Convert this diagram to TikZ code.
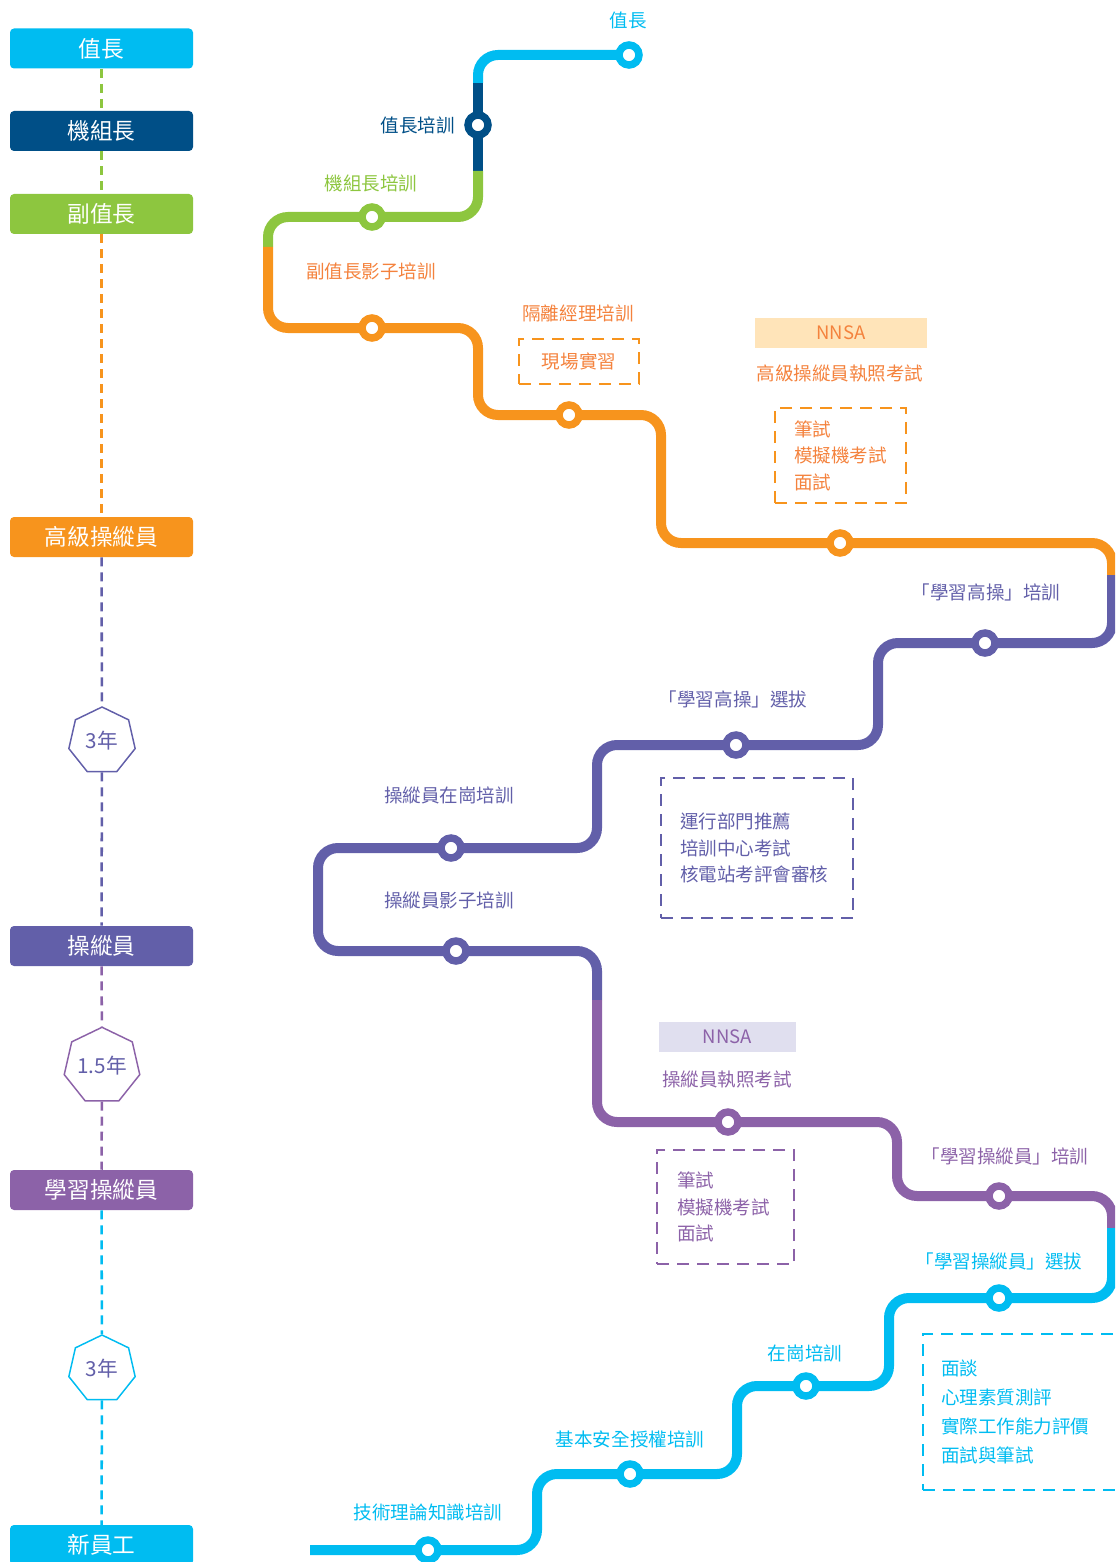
\documentclass[tikz,border=0pt]{standalone}
\usepackage{fontspec}
\setmainfont{Noto Sans CJK TC}
\usetikzlibrary{shapes.geometric}
\definecolor{cyanL}{HTML}{00BCF1}
\definecolor{navyL}{HTML}{004F87}
\definecolor{greenL}{HTML}{8DC63F}
\definecolor{orangeL}{HTML}{F7941D}
\definecolor{orangeT}{HTML}{F4823D}
\definecolor{purpleL}{HTML}{625FA9}
\definecolor{violetL}{HTML}{8C62A8}
\definecolor{peach}{HTML}{FFE4B9}
\definecolor{lavender}{HTML}{E0DFEF}
\tikzset{
  rank/.style={fill=#1,rounded corners=3pt,minimum width=137.25pt,minimum height=30pt,inner sep=0pt,text=white,font=\fontsize{17}{17}\selectfont},
  track/.style={draw=#1,line width=7.5pt,rounded corners=15pt},
  stop/.style={circle,draw=#1,fill=white,line width=5.6pt,minimum size=15pt,inner sep=0pt},
  lbl/.style={text=#1,font=\fontsize{13.9}{19.9}\selectfont,inner sep=0pt,align=left},
  dbox/.style={draw=#1,line width=1.9pt,dash pattern=on 9pt off 6pt,inner sep=0pt},
  tag/.style={fill=#1,minimum height=22.5pt,inner sep=0pt,font=\fontsize{13.9}{13.9}\selectfont},
  years/.style={draw=#1,fill=white,line width=1.1pt,regular polygon,regular polygon sides=7,minimum size=51pt,inner sep=0pt,text=purpleL,font=\fontsize{15.5}{15.5}\selectfont},
  tie/.style={draw=#1,line width=1.9pt,dash pattern=on 6.75pt off 4.5pt}
}
\begin{document}
\begin{tikzpicture}[x=0.75pt,y=-0.75pt]
\useasboundingbox (0,0) rectangle (1115,1562);
\clip (0,0) rectangle (1115,1562);
% ranks on the left
\node[rank=cyanL] (r1) at (101.5,48.5) {值長};
\node[rank=navyL] (r2) at (101.5,131) {機組長};
\node[rank=greenL] (r3) at (101.5,214) {副值長};
\node[rank=orangeL] (r4) at (101.5,537) {高級操縱員};
\node[rank=purpleL] (r5) at (101.5,946) {操縱員};
\node[rank=violetL] (r6) at (101.5,1190) {學習操縱員};
\node[rank=cyanL] (r7) at (101.5,1545) {新員工};
\node[years=purpleL] (h1) at (102,741) {3年};
\node[years=violetL] (h2) at (102,1066) {1.5年};
\node[years=cyanL] (h3) at (102,1369) {3年};
\draw[tie=greenL] (r1)--(r2);
\draw[tie=greenL] (r2)--(r3);
\draw[tie=orangeL] (r3)--(r4);
\draw[tie=purpleL] (r4)--(h1);
\draw[tie=purpleL] (h1)--(r5);
\draw[tie=violetL] (r5)--(h2);
\draw[tie=violetL] (h2)--(r6);
\draw[tie=cyanL] (r6)--(h3);
\draw[tie=cyanL] (h3)--(r7);
% stations
\coordinate (s1) at (629,55);
\coordinate (s2) at (478,125);
\coordinate (s3) at (372,217);
\coordinate (s4) at (372,328);
\coordinate (s5) at (569,415);
\coordinate (s6) at (840,543);
\coordinate (s7) at (985,643);
\coordinate (s8) at (736,745);
\coordinate (s9) at (451,848);
\coordinate (s10) at (456,951);
\coordinate (s11) at (728,1122);
\coordinate (s12) at (999,1196);
\coordinate (s13) at (999,1298);
\coordinate (s14) at (806,1386);
\coordinate (s15) at (630,1474);
\coordinate (s16) at (428,1550);
% the line
\draw[track=cyanL] (s1) -| (478,83);
\draw[track=navyL] (478,83)--(478,171);
\draw[track=greenL] (478,171) |- (s3) -| (268,247);
\draw[track=orangeL] (268,247) |- (s4) -| (478,415)--(s5) -| (661,543)--(s6) -| (1112,575);
\draw[track=purpleL] (1112,575) |- (s7) -| (878,745)--(s8) -| (597,848)--(s9) -| (318,951)--(s10) -| (597,1000);
\draw[track=violetL] (597,1000) |- (s11) -| (897,1196)--(s12) -| (1112,1228);
\draw[track=cyanL] (1112,1228) |- (s13) -| (889,1386)--(s14) -| (737,1474)--(s15) -| (537,1550)--(s16)--(310,1550);
\foreach \s/\c in {s1/cyanL,s2/navyL,s3/greenL,s4/orangeL,s5/orangeL,s6/orangeL,s7/purpleL,s8/purpleL,s9/purpleL,s10/purpleL,s11/violetL,s12/violetL,s13/cyanL,s14/cyanL,s15/cyanL,s16/cyanL}
  \node[stop=\c] (n\s) at (\s) {};
%text
\node[lbl=cyanL] (t1) at (628,20) {值長};
\node[lbl=navyL,anchor=east] (t2) at (455,125) {值長培訓};
\node[lbl=greenL] (t3) at (371,183) {機組長培訓};
\node[lbl=orangeT] (t4) at (371,271) {副值長影子培訓};
\node[lbl=orangeT] (t5) at (578,313) {隔離經理培訓};
\node[dbox=orangeL,minimum width=90pt,minimum height=33.75pt] (b1) at (579,361.5) {};
\node[lbl=orangeT] (t6) at (b1) {現場實習};
\node[tag=peach,minimum width=129pt,text=orangeT] (g1) at (841,333) {NNSA};
\node[lbl=orangeT] (t7) at (840,373) {高級操縱員執照考試};
\node[dbox=orangeL,minimum width=98.25pt,minimum height=71.25pt] (b2) at (840.5,455.5) {};
\node[lbl=orangeT,anchor=west] (t8) at ([xshift=15pt]b2.west) {筆試\\模擬機考試\\面試};
\node[lbl=purpleL] (t9) at (986,592) {「學習高操」培訓};
\node[lbl=purpleL] (t10) at (733,699) {「學習高操」選拔};
\node[dbox=purpleL,minimum width=144pt,minimum height=105pt] (b3) at (757,848) {};
\node[lbl=purpleL,anchor=west] (t11) at ([xshift=15pt]b3.west) {運行部門推薦\\培訓中心考試\\核電站考評會審核};
\node[lbl=purpleL] (t12) at (449,795) {操縱員在崗培訓};
\node[lbl=purpleL] (t13) at (449,900) {操縱員影子培訓};
\node[tag=lavender,minimum width=102.75pt,text=violetL] (g2) at (727.5,1037) {NNSA};
\node[lbl=violetL] (t14) at (727,1079) {操縱員執照考試};
\node[dbox=violetL,minimum width=102.75pt,minimum height=85.5pt] (b4) at (725.5,1207) {};
\node[lbl=violetL,anchor=west] (t15) at ([xshift=15.75pt]b4.west) {筆試\\模擬機考試\\面試};
\node[lbl=violetL] (t16) at (1005,1156) {「學習操縱員」培訓};
\node[lbl=cyanL] (t17) at (999,1261) {「學習操縱員」選拔};
\node[dbox=cyanL,minimum width=162.75pt,minimum height=117pt] (b5) at (1031.5,1412) {};
\node[lbl=cyanL,anchor=west,font=\fontsize{13.9}{21.75}\selectfont] (t18) at ([xshift=14.25pt]b5.west) {面談\\心理素質測評\\實際工作能力評價\\面試與筆試};
\node[lbl=cyanL] (t19) at (805,1353) {在崗培訓};
\node[lbl=cyanL] (t20) at (630,1439) {基本安全授權培訓};
\node[lbl=cyanL] (t21) at (428,1512) {技術理論知識培訓};
\end{tikzpicture}
\end{document}
